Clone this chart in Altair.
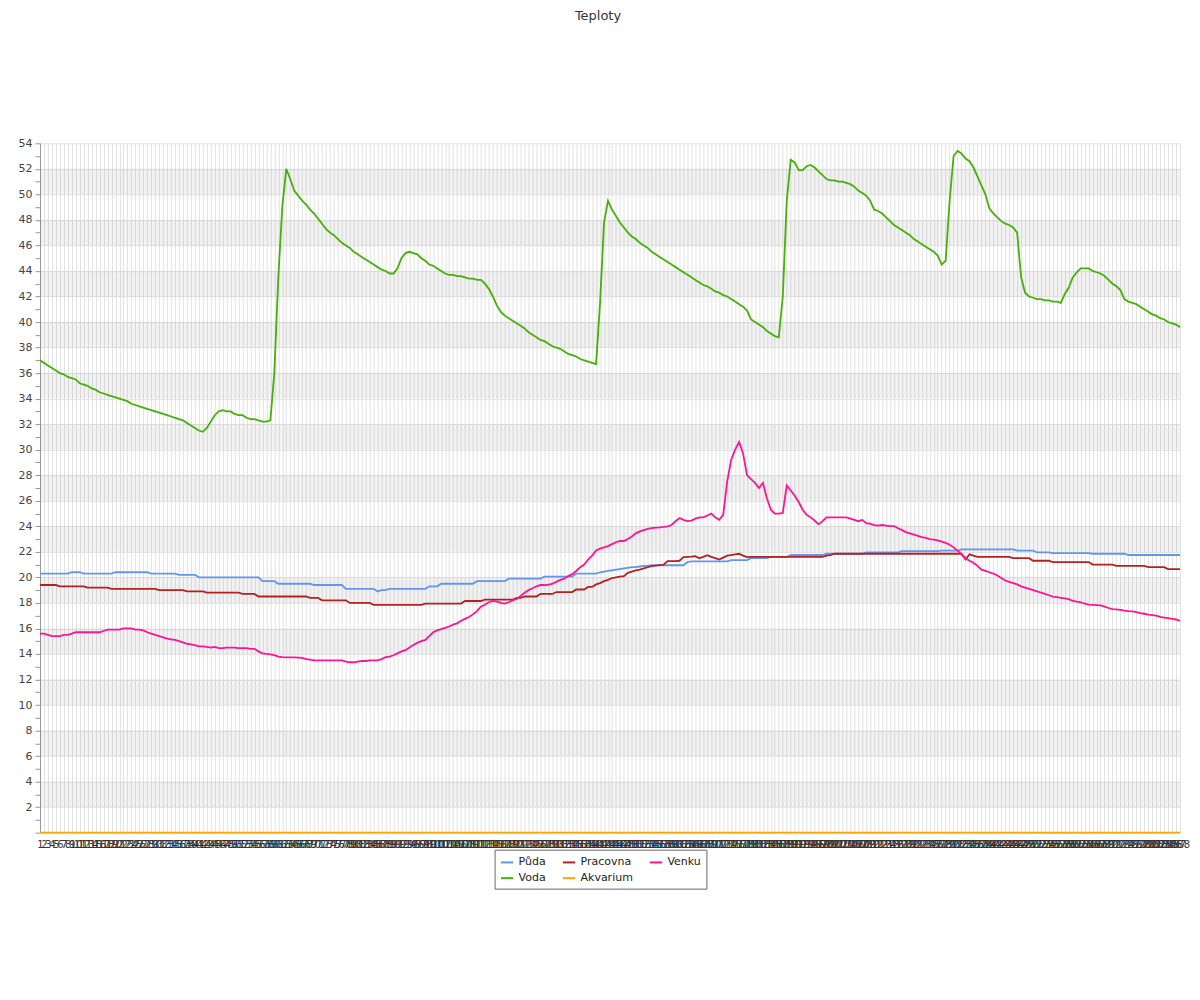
import altair as alt
import pandas as pd

labels = list(range(1, 289))
order = ["Půda", "Pracovna", "Venku", "Voda", "Akvarium"]
colors = ["#6495ED", "#B22222", "#FF1493", "#45B008", "#FFA500"]

voda = [
    37.0, 36.8, 36.6, 36.4, 36.2, 36.0, 35.9, 35.7, 35.6, 35.5,
    35.2, 35.1, 35.0, 34.8, 34.7, 34.5, 34.4, 34.3, 34.2, 34.1,
    34.0, 33.9, 33.8, 33.6, 33.5, 33.4, 33.3, 33.2, 33.1, 33.0,
    32.9, 32.8, 32.7, 32.6, 32.5, 32.4, 32.3, 32.1, 31.9, 31.7,
    31.5, 31.4, 31.7, 32.2, 32.7, 33.0, 33.1, 33.0, 33.0, 32.8,
    32.7, 32.7, 32.5, 32.4, 32.4, 32.3, 32.2, 32.2, 32.3, 36.0,
    43.5, 49.0, 52.0, 51.2, 50.3, 49.9, 49.5, 49.2, 48.8, 48.5,
    48.1, 47.7, 47.3, 47.0, 46.8, 46.5, 46.2, 46.0, 45.8, 45.5,
    45.3, 45.1, 44.9, 44.7, 44.5, 44.3, 44.1, 44.0, 43.8, 43.8,
    44.2, 45.0, 45.4, 45.5, 45.4, 45.3, 45.0, 44.8, 44.5, 44.4,
    44.2, 44.0, 43.8, 43.7, 43.7, 43.6, 43.6, 43.5, 43.4, 43.4,
    43.3, 43.3, 43.0, 42.6, 42.0, 41.3, 40.8, 40.5, 40.3, 40.1,
    39.9, 39.7, 39.5, 39.2, 39.0, 38.8, 38.6, 38.5, 38.3, 38.1,
    38.0, 37.9, 37.7, 37.5, 37.4, 37.3, 37.1, 37.0, 36.9, 36.8,
    36.7, 41.5, 47.8, 49.5, 48.8, 48.3, 47.8, 47.4, 47.0, 46.7,
    46.5, 46.2, 46.0, 45.8, 45.5, 45.3, 45.1, 44.9, 44.7, 44.5,
    44.3, 44.1, 43.9, 43.7, 43.5, 43.3, 43.1, 42.9, 42.8, 42.6,
    42.4, 42.3, 42.1, 42.0, 41.8, 41.6, 41.4, 41.2, 40.9, 40.2,
    40.0, 39.8, 39.6, 39.3, 39.1, 38.9, 38.8, 42.0, 49.5, 52.7,
    52.5, 51.9, 51.9, 52.2, 52.3, 52.1, 51.8, 51.5, 51.2, 51.1,
    51.1, 51.0, 51.0, 50.9, 50.8, 50.6, 50.3, 50.1, 49.9, 49.5,
    48.8, 48.7, 48.5, 48.2, 47.9, 47.6, 47.4, 47.2, 47.0, 46.8,
    46.5, 46.3, 46.1, 45.9, 45.7, 45.5, 45.2, 44.5, 44.8, 49.5,
    53.0, 53.4, 53.2, 52.8, 52.6, 52.1, 51.4, 50.7, 50.0, 48.9,
    48.5, 48.2, 47.9, 47.7, 47.6, 47.4, 47.0, 43.5, 42.3, 42.0,
    41.9, 41.8, 41.8, 41.7, 41.7, 41.6, 41.6, 41.5, 42.2, 42.7,
    43.5, 43.9, 44.2, 44.2, 44.2, 44.0, 43.9, 43.8, 43.6, 43.3,
    43.0, 42.8, 42.5, 41.8, 41.6, 41.5, 41.4, 41.2, 41.0, 40.8,
    40.6, 40.5, 40.3, 40.2, 40.0, 39.9, 39.8, 39.6,
]

puda = [
    20.3, 20.3, 20.3, 20.3, 20.3, 20.3, 20.3, 20.3,
    20.4, 20.4, 20.4,
    20.3, 20.3, 20.3, 20.3, 20.3, 20.3, 20.3, 20.3,
    20.4, 20.4, 20.4, 20.4, 20.4, 20.4, 20.4, 20.4, 20.4,
    20.3, 20.3, 20.3, 20.3, 20.3, 20.3, 20.3,
    20.2, 20.2, 20.2, 20.2, 20.2,
    20.0, 20.0, 20.0, 20.0, 20.0, 20.0, 20.0, 20.0,
    20.0, 20.0, 20.0, 20.0, 20.0, 20.0, 20.0, 20.0,
    19.7, 19.7, 19.7, 19.7,
    19.5, 19.5, 19.5, 19.5, 19.5, 19.5, 19.5, 19.5, 19.5,
    19.4, 19.4, 19.4, 19.4, 19.4, 19.4, 19.4, 19.4,
    19.1, 19.1, 19.1, 19.1, 19.1, 19.1, 19.1, 19.1,
    18.9,
    19.0, 19.0,
    19.1, 19.1, 19.1, 19.1, 19.1, 19.1, 19.1, 19.1, 19.1, 19.1,
    19.3, 19.3, 19.3,
    19.5, 19.5, 19.5, 19.5, 19.5, 19.5, 19.5, 19.5, 19.5,
    19.7, 19.7, 19.7, 19.7, 19.7, 19.7, 19.7, 19.7,
    19.9, 19.9, 19.9, 19.9, 19.9, 19.9, 19.9, 19.9, 19.9,
    20.05, 20.05, 20.05, 20.05, 20.05, 20.05, 20.05, 20.05,
    20.3, 20.3, 20.3, 20.3, 20.3, 20.3,
    20.4, 20.45, 20.5, 20.55, 20.6, 20.65, 20.7, 20.75, 20.8, 20.8,
    20.85, 20.9, 20.9, 20.95,
    20.95, 20.95, 20.95, 20.95, 20.95, 20.95, 20.95, 20.95,
    21.2,
    21.25, 21.25, 21.25, 21.25, 21.25, 21.25, 21.25, 21.25, 21.25, 21.25,
    21.35, 21.35, 21.35, 21.35, 21.35,
    21.5, 21.5, 21.5, 21.5, 21.5,
    21.6, 21.6, 21.6, 21.6, 21.6,
    21.75, 21.75, 21.75, 21.75, 21.75, 21.75, 21.75, 21.75, 21.75,
    21.85, 21.85, 21.85, 21.85, 21.85, 21.85, 21.85, 21.85, 21.85, 21.85,
    21.95, 21.95, 21.95, 21.95, 21.95, 21.95, 21.95, 21.95, 21.95,
    22.05, 22.05, 22.05, 22.05, 22.05, 22.05, 22.05, 22.05, 22.05, 22.05,
    22.1, 22.1, 22.1, 22.1, 22.1,
    22.2, 22.2, 22.2, 22.2, 22.2, 22.2, 22.2, 22.2, 22.2, 22.2, 22.2, 22.2, 22.2, 22.2,
    22.1, 22.1, 22.1, 22.1, 22.1,
    21.95, 21.95, 21.95, 21.95,
    21.9, 21.9, 21.9, 21.9, 21.9, 21.9, 21.9, 21.9, 21.9, 21.9,
    21.85, 21.85, 21.85, 21.85, 21.85, 21.85, 21.85, 21.85, 21.85,
    21.75, 21.75, 21.75, 21.75, 21.75, 21.75, 21.75, 21.75, 21.75, 21.75, 21.75, 21.75, 21.75, 21.75,
]

pracovna = [
    19.4, 19.4, 19.4, 19.4, 19.4,
    19.3, 19.3, 19.3, 19.3, 19.3, 19.3, 19.3,
    19.2, 19.2, 19.2, 19.2, 19.2, 19.2,
    19.1, 19.1, 19.1, 19.1, 19.1, 19.1, 19.1, 19.1, 19.1, 19.1, 19.1, 19.1,
    19.0, 19.0, 19.0, 19.0, 19.0, 19.0, 19.0,
    18.9, 18.9, 18.9, 18.9, 18.9,
    18.8, 18.8, 18.8, 18.8, 18.8, 18.8, 18.8, 18.8, 18.8,
    18.7, 18.7, 18.7, 18.7,
    18.5, 18.5, 18.5, 18.5, 18.5, 18.5, 18.5, 18.5, 18.5, 18.5, 18.5, 18.5, 18.5,
    18.4, 18.4, 18.4,
    18.2, 18.2, 18.2, 18.2, 18.2, 18.2, 18.2,
    18.0, 18.0, 18.0, 18.0, 18.0, 18.0,
    17.85, 17.85, 17.85, 17.85, 17.85, 17.85, 17.85, 17.85, 17.85, 17.85, 17.85, 17.85, 17.85,
    17.95, 17.95, 17.95, 17.95, 17.95, 17.95, 17.95, 17.95, 17.95, 17.95,
    18.15, 18.15, 18.15, 18.15, 18.15,
    18.25, 18.25, 18.25, 18.25, 18.25, 18.25, 18.25, 18.25,
    18.4, 18.4,
    18.5, 18.5, 18.5, 18.5,
    18.7, 18.7, 18.7, 18.7,
    18.85, 18.85, 18.85, 18.85, 18.85,
    19.05, 19.05, 19.05,
    19.25, 19.25,
    19.45,
    19.55, 19.7, 19.8, 19.95, 20.0, 20.05, 20.1, 20.35, 20.45, 20.55,
    20.6, 20.7, 20.8, 20.88, 20.92, 20.96, 21.0, 21.27, 21.27, 21.27,
    21.3, 21.58, 21.6, 21.62, 21.66, 21.5, 21.6, 21.74, 21.6, 21.5,
    21.4, 21.55, 21.7, 21.75, 21.8, 21.85, 21.7, 21.58,
    21.6, 21.6, 21.6, 21.6, 21.6, 21.6, 21.6, 21.6, 21.6, 21.6,
    21.6, 21.6, 21.6, 21.6, 21.6, 21.6, 21.6, 21.6, 21.6,
    21.7, 21.75,
    21.85, 21.85, 21.85, 21.85, 21.85, 21.85, 21.85, 21.85, 21.85, 21.85, 21.85,
    21.85, 21.85, 21.85, 21.85, 21.85, 21.85, 21.85, 21.85, 21.85, 21.85, 21.85,
    21.85, 21.85, 21.85, 21.85, 21.85, 21.85, 21.85, 21.85, 21.85, 21.85, 21.85,
    21.4, 21.8, 21.7,
    21.6, 21.6, 21.6, 21.6, 21.6, 21.6, 21.6, 21.6, 21.6,
    21.5, 21.5, 21.5, 21.5, 21.5,
    21.3, 21.3, 21.3, 21.3, 21.3,
    21.2, 21.2, 21.2, 21.2, 21.2, 21.2, 21.2, 21.2, 21.2, 21.2,
    21.0, 21.0, 21.0, 21.0, 21.0, 21.0,
    20.9, 20.9, 20.9, 20.9, 20.9, 20.9, 20.9, 20.9,
    20.8, 20.8, 20.8, 20.8, 20.8,
    20.65, 20.65, 20.65, 20.65,
]

venku = [
    15.6, 15.6, 15.5, 15.4, 15.4, 15.4, 15.5, 15.5, 15.6, 15.7,
    15.7, 15.7, 15.7, 15.7, 15.7, 15.7, 15.8, 15.9, 15.9, 15.9,
    15.9, 16.0, 16.0, 16.0, 15.9, 15.9, 15.85, 15.7, 15.6, 15.5,
    15.4, 15.3, 15.2, 15.15, 15.1, 15.0, 14.9, 14.8, 14.75, 14.7,
    14.6, 14.6, 14.55, 14.5, 14.55, 14.45, 14.45, 14.5, 14.5, 14.5,
    14.45, 14.45, 14.45, 14.4, 14.4, 14.2, 14.05, 14.0, 13.97, 13.9,
    13.8, 13.75, 13.74, 13.74, 13.74, 13.72, 13.7, 13.6, 13.55, 13.5,
    13.5, 13.5, 13.5, 13.5, 13.5, 13.5, 13.5, 13.4, 13.35, 13.35,
    13.4, 13.45, 13.45, 13.5, 13.5, 13.5, 13.6, 13.75, 13.8, 13.9,
    14.05, 14.2, 14.3, 14.5, 14.7, 14.87, 15.0, 15.1, 15.4, 15.7,
    15.85, 15.95, 16.05, 16.15, 16.3, 16.4, 16.6, 16.75, 16.9, 17.1,
    17.35, 17.7, 17.85, 18.05, 18.15, 18.1, 18.0, 17.95, 18.05, 18.2,
    18.3, 18.55, 18.8, 19.0, 19.15, 19.3, 19.4, 19.4, 19.42, 19.5,
    19.65, 19.8, 19.9, 20.1, 20.25, 20.5, 20.8, 21.0, 21.4, 21.7,
    22.1,
    22.25, 22.35, 22.45, 22.6, 22.75, 22.85, 22.85, 23.0, 23.2, 23.45,
    23.6, 23.7, 23.8, 23.85, 23.9, 23.92, 23.95, 24.0, 24.1, 24.4,
    24.65, 24.5, 24.4, 24.45, 24.6, 24.7, 24.7, 24.85, 25.0, 24.7,
    24.5, 24.9, 27.5, 29.2, 30.0, 30.6, 29.7, 28.0, 27.7, 27.4,
    27.0, 27.4, 26.2, 25.3, 25.0, 25.0, 25.05, 27.2, 26.8, 26.4,
    25.9, 25.3, 24.9, 24.7, 24.45, 24.15, 24.4, 24.7, 24.7, 24.7,
    24.7, 24.7, 24.7, 24.6, 24.5, 24.4, 24.5, 24.25, 24.2, 24.1,
    24.05, 24.1, 24.05, 24.02, 24.02, 23.85, 23.7, 23.55, 23.45, 23.35,
    23.25, 23.15, 23.1, 23.0, 22.95, 22.9, 22.8, 22.7, 22.55, 22.35,
    22.1, 21.8, 21.5, 21.3, 21.15, 20.9, 20.6, 20.5, 20.4, 20.3,
    20.15, 19.95, 19.75, 19.65, 19.55, 19.45, 19.3, 19.2, 19.1, 19.0,
    18.9, 18.8, 18.7, 18.6, 18.5, 18.45, 18.4, 18.35, 18.3, 18.15,
    18.1, 18.05, 17.95, 17.87, 17.85, 17.83, 17.8, 17.7, 17.6, 17.52,
    17.5, 17.45, 17.4, 17.36, 17.33, 17.28, 17.2, 17.15, 17.08, 17.05,
    17.0, 16.9, 16.85, 16.8, 16.75, 16.7, 16.6,
]

akvarium = [0.0] * len(labels)

band_lo = [2, 6, 10, 14, 18, 22, 26, 30, 34, 38, 42, 46, 50]

series = {"Půda": puda, "Pracovna": pracovna, "Venku": venku, "Voda": voda, "Akvarium": akvarium}
for k, v in series.items():
    assert len(v) == len(labels), (k, len(v))

rows = []
for name, vals in series.items():
    for lab, val in zip(labels, vals):
        rows.append({"t": lab, "serie": name, "teplota": val})
df = pd.DataFrame(rows)
bands = pd.DataFrame({"lo": band_lo, "hi": [b + 2 for b in band_lo]})

FONT = "DejaVu Sans"
y_scale = alt.Scale(domain=[0, 54], nice=False, zero=True)
y_axis = alt.Axis(
    title=None,
    values=list(range(0, 55)),
    labelExpr="(datum.value % 2 == 0 && datum.value > 0) ? datum.label : ''",
    gridColor="#e2e2e2",
    gridOpacity={"condition": {"test": "datum.value % 2 == 1", "value": 0}, "value": 1},
    tickColor="#999999",
    tickSize=5,
    domainColor="#999999",
    labelFont=FONT,
    labelFontSize=11,
    labelColor="#444444",
    labelPadding=3,
)

band_layer = alt.Chart(bands).mark_rect(color="#000000", opacity=0.05).encode(
    y=alt.Y("lo:Q", scale=y_scale, axis=y_axis),
    y2="hi:Q",
)

lines = alt.Chart(df).mark_line(strokeWidth=1.8).encode(
    x=alt.X(
        "t:O",
        scale=alt.Scale(type="point", padding=0),
        axis=alt.Axis(
            title=None,
            labelAngle=0,
            labelOverlap=False,
            grid=True,
            gridColor="#e2e2e2",
            ticks=False,
            domain=False,
            labelFont=FONT,
            labelFontSize=10,
            labelColor="#333333",
            labelPadding=7,
        ),
    ),
    y=alt.Y("teplota:Q", scale=y_scale, axis=y_axis),
    color=alt.Color(
        "serie:N",
        scale=alt.Scale(domain=order, range=colors),
        legend=alt.Legend(
            title=None,
            orient="none",
            legendX=455,
            legendY=707,
            direction="horizontal",
            columns=3,
            symbolType="stroke",
            symbolStrokeWidth=2,
            symbolSize=150,
            labelFont=FONT,
            labelFontSize=11,
            labelColor="#222222",
            strokeColor="#666666",
            fillColor="#ffffff",
            padding=5,
            columnPadding=12,
            rowPadding=3,
        ),
    ),
)

chart = alt.layer(band_layer, lines).properties(
    width=1141,
    height=690,
    title=alt.TitleParams(
        "Teploty", font=FONT, fontSize=13, fontWeight="normal", color="#333333",
        offset=114, dx=-12,
    ),
    autosize=alt.AutoSizeParams(type="none"),
    padding={"left": 32, "top": 135, "right": 12, "bottom": 120},
).configure_view(strokeWidth=0)

chart.save("out.html", embed_options={"renderer": "svg", "actions": False})
